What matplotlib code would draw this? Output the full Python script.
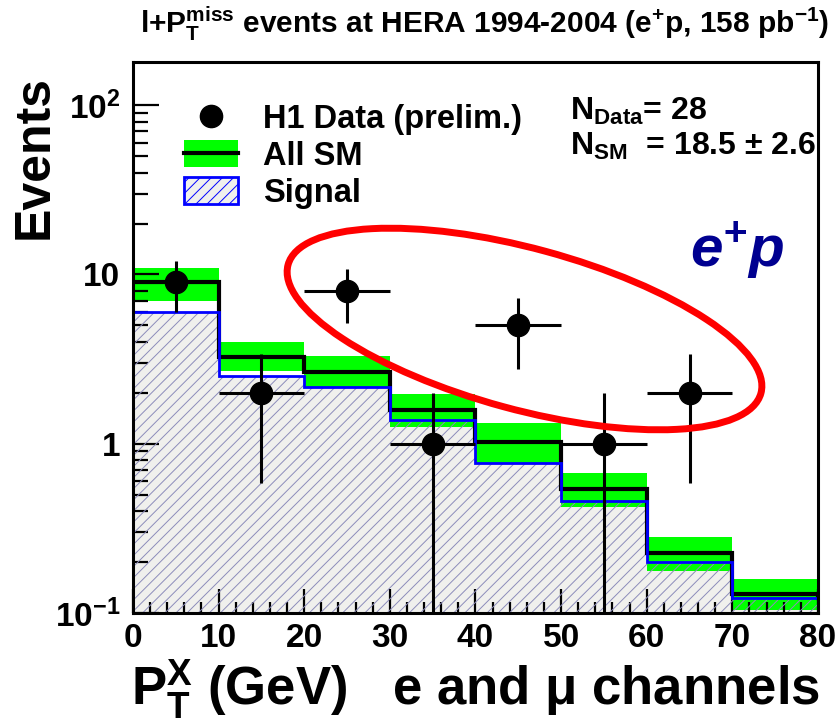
import matplotlib
matplotlib.use("Agg")
import matplotlib.pyplot as plt
from matplotlib.lines import Line2D
from matplotlib.patches import Patch, Ellipse
from matplotlib.ticker import FixedLocator, FixedFormatter, MultipleLocator, LogLocator, NullFormatter

plt.rcParams["font.family"] = ["Liberation Sans", "DejaVu Sans"]
plt.rcParams["font.weight"] = "bold"
plt.rcParams["mathtext.fontset"] = "custom"
plt.rcParams["mathtext.rm"] = "Liberation Sans:bold"
plt.rcParams["mathtext.bf"] = "Liberation Sans:bold"
plt.rcParams["mathtext.it"] = "Liberation Sans:bold"
plt.rcParams["mathtext.sf"] = "Liberation Sans:bold:italic"
plt.rcParams["hatch.linewidth"] = 0.7

# bins in PT^X (GeV)
edges = [0, 10, 20, 30, 40, 50, 60, 70, 80]
centers = [5, 15, 25, 35, 45, 55, 65]

# H1 data (last bin empty)
data = [9, 2, 8, 1, 5, 1, 2]
data_err = [3.0, 1.41, 2.83, 1.0, 2.24, 1.0, 1.41]

# all SM expectation and its error band
sm = [9.0, 3.24, 2.66, 1.59, 1.03, 0.54, 0.227, 0.129]
sm_hi = [10.9, 4.0, 3.29, 1.98, 1.33, 0.67, 0.283, 0.158]
sm_lo = [6.95, 2.68, 2.16, 1.25, 0.77, 0.42, 0.178, 0.104]

# signal contribution
signal = [5.98, 2.5, 2.16, 1.39, 0.77, 0.46, 0.20, 0.122]

fig = plt.figure(figsize=(8.4, 7.25), dpi=100)
ax = fig.add_axes([0.1583, 0.1545, 0.8155, 0.76])
ax.set_yscale("log")

base = 1e-3
ax.stairs(signal, edges, baseline=base, fill=True, facecolor="#f0f0ed", edgecolor="none", lw=0, zorder=1)
ax.stairs(sm_hi, edges, baseline=sm_lo, fill=True, color="#00ff00", lw=0, zorder=2)
ax.stairs(signal, edges, baseline=base, fill=True, facecolor="none", edgecolor="#8c8cba",
          hatch="///", lw=0, zorder=3)
ax.stairs(sm, edges, baseline=None, color="black", lw=3, zorder=4)
ax.stairs(signal, edges, baseline=None, color="#0000ff", lw=2, zorder=5)
ax.plot([edges[-1], edges[-1]], [signal[-1], sm[-1]], color="black", lw=3, zorder=4)

ax.errorbar(centers, data, xerr=5, yerr=data_err, fmt="o", color="black", ms=16,
            elinewidth=2.2, capsize=0, zorder=6)

ax.set_xlim(0, 80)
ax.set_ylim(0.1, 180)

ax.xaxis.set_major_locator(MultipleLocator(10))
ax.xaxis.set_minor_locator(MultipleLocator(2))
ax.yaxis.set_major_locator(FixedLocator([0.1, 1, 10, 100]))
ax.yaxis.set_major_formatter(FixedFormatter([r"10$^{-1}$", "1", "10", r"10$^{2}$"]))
ax.yaxis.set_minor_locator(LogLocator(base=10, subs=range(2, 10)))
ax.yaxis.set_minor_formatter(NullFormatter())

ax.tick_params(which="both", direction="in", top=False, right=False, width=1.6, labelsize=24)
ax.tick_params(axis="y", which="major", length=19, pad=9)
ax.tick_params(axis="y", which="minor", length=11)
ax.tick_params(axis="x", which="major", length=17, pad=7)
ax.tick_params(axis="x", which="minor", length=8)
for sp in ax.spines.values():
    sp.set_linewidth(2.2)
    sp.set_zorder(10)
ax.set_axisbelow(False)

# legend
h_data = Line2D([], [], marker="o", color="black", ms=16, ls="none")
h_sm = (Patch(facecolor="#00ff00", edgecolor="none"), Line2D([], [], color="black", lw=3))
h_sig = Patch(facecolor="#f0f0ed", edgecolor="#0000ff", hatch="///", lw=2)
ax.legend([h_data, h_sm, h_sig], ["H1 Data (prelim.)", "All SM", "Signal"],
          loc="upper left", bbox_to_anchor=(0.075, 0.925), frameon=False, fontsize=23.5,
          handlelength=1.65, handleheight=0.9, handletextpad=0.75, labelspacing=0.16,
          borderpad=0, borderaxespad=0)

ax.text(570, 725 - 120, r"N$_{\rm Data}$= 28", transform=None, fontsize=23)
ax.text(570, 725 - 155, r"N$_{\rm SM}$  = 18.5 $\pm$ 2.6", transform=None, fontsize=23)
ax.text(690, 725 - 267, r"$\mathsf{e^{+}p}$", transform=None, fontsize=42, color="#000090")

fig.text(485 / 840, 1 - 33 / 725,
         r"l+P$_{\rm T}^{\rm miss}$ events at HERA 1994-2004 (e$^{+}$p, 158 pb$^{-1}$)",
         ha="center", va="baseline", fontsize=21.5)
fig.text(35 / 840, 1 - 157 / 725, "Events", rotation=90, ha="center", va="center", fontsize=36)
fig.text(820 / 840, 1 - 705 / 725, r"P$_{\rm T}^{\rm X}$ (GeV)   e and μ channels",
         ha="right", va="baseline", fontsize=38)

ring = Ellipse((5.245, 3.96), 4.90, 1.61, angle=-15.2, transform=fig.dpi_scale_trans,
               fill=False, edgecolor="#ff0000", lw=5)
fig.add_artist(ring)

fig.savefig("out.png", dpi=100)
